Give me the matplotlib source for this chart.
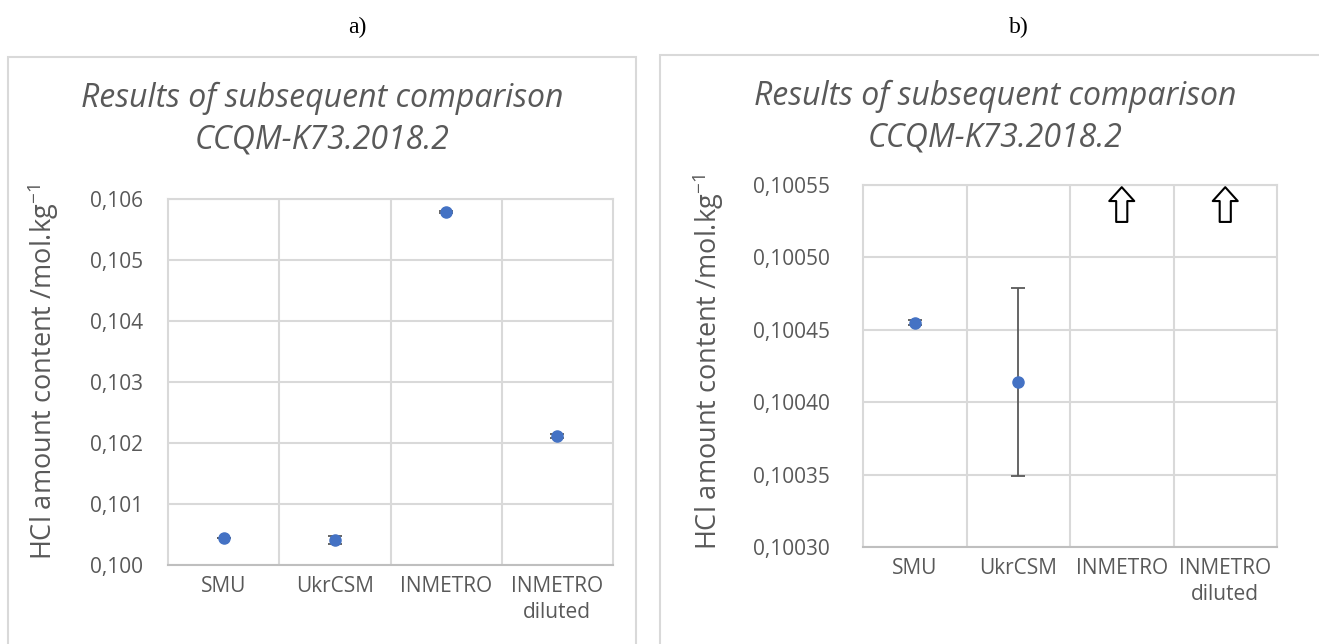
import matplotlib
matplotlib.use("Agg")
import matplotlib.pyplot as plt
from matplotlib.patches import Rectangle

plt.rcParams['font.family'] = ['Open Sans', 'DejaVu Sans']
plt.rcParams['mathtext.fontset'] = 'custom'
plt.rcParams['mathtext.rm'] = 'Open Sans'

# data
labs = ["SMU", "UkrCSM", "INMETRO", "INMETRO\ndiluted"]
vals_a = [0.100445, 0.100414, 0.105785, 0.102115]
err_a = [0.000002, 0.000065, 0.00002, 0.00004]
vals_b = [0.100455, 0.100414]
err_b = [0.000002, 0.000065]
off_scale_b = ["INMETRO", "INMETRO\ndiluted"]

yt_a = [0.100, 0.101, 0.102, 0.103, 0.104, 0.105, 0.106]
ytl_a = ["0,100", "0,101", "0,102", "0,103", "0,104", "0,105", "0,106"]
yt_b = [0.10030, 0.10035, 0.10040, 0.10045, 0.10050, 0.10055]
ytl_b = ["0,10030", "0,10035", "0,10040", "0,10045", "0,10050", "0,10055"]

title = "Results of subsequent comparison\nCCQM-K73.2018.2"
ylab = r"HCl amount content /mol.kg$^{\mathregular{-1}}$"

blue = "#4472C4"
grid_c = "#D9D9D9"
txt_c = "#595959"

W, H = 1319, 644
fig = plt.figure(figsize=(W / 100, H / 100), dpi=100)

# panel borders
fig.add_artist(Rectangle((8 / W, -0.01), 628 / W, 1 - 57 / H + 0.01,
                         transform=fig.transFigure, fill=False, ec=grid_c, lw=1.5))
fig.add_artist(Rectangle((660 / W, -0.01), 700 / W, 1 - 55 / H + 0.01,
                         transform=fig.transFigure, fill=False, ec=grid_c, lw=1.5))

fig.text(357 / W, 1 - 27 / H, "a)", family="Liberation Serif", fontsize=17,
         ha="center", va="center")
fig.text(1019 / W, 1 - 27 / H, "b)", family="Liberation Serif", fontsize=17,
         ha="center", va="center")

ax1 = fig.add_axes([168 / W, 1 - 565 / H, 445 / W, 366 / H])
ax2 = fig.add_axes([863 / W, 1 - 547 / H, 414 / W, 362 / H])


def style(ax, yt, ytl, pad):
    x = list(range(1, len(labs) + 1))
    ax.set_xlim(0.5, len(labs) + 0.5)
    ax.set_xticks(x)
    ax.set_xticklabels(labs, fontsize=15, color=txt_c, linespacing=1.3)
    ax.set_xticks([i + 0.5 for i in x[:-1]], minor=True)
    ax.set_ylim(yt[0], yt[-1])
    ax.set_yticks(yt)
    ax.set_yticklabels(ytl, fontsize=15, color=txt_c)
    ax.grid(True, which="major", axis="y", color=grid_c, lw=1.5)
    ax.grid(True, which="minor", axis="x", color=grid_c, lw=1.5)
    ax.tick_params(which="both", length=0)
    ax.tick_params(axis="y", pad=pad)
    ax.tick_params(axis="x", pad=8)
    for s in ax.spines.values():
        s.set_color(grid_c)
        s.set_linewidth(1.5)
    ax.spines["bottom"].set_color("#BFBFBF")
    ax.set_axisbelow(True)


style(ax1, yt_a, ytl_a, 18)
style(ax2, yt_b, ytl_b, 24)

ax1.errorbar(range(1, len(vals_a) + 1), vals_a, yerr=err_a, fmt="o", color=blue,
             ms=8, ecolor="#595959", elinewidth=1.3, capsize=5, capthick=1.3, zorder=3)
ax2.errorbar(range(1, len(vals_b) + 1), vals_b, yerr=err_b, fmt="o", color=blue,
             ms=8, ecolor="#595959", elinewidth=1.3, capsize=5, capthick=1.3, zorder=3)

# off-scale results marked with arrows
for lab in off_scale_b:
    xi = labs.index(lab) + 1
    ax2.annotate("", xy=(xi, 0.994), xytext=(xi, 0.898),
                 xycoords=("data", "axes fraction"), textcoords=("data", "axes fraction"),
                 arrowprops=dict(arrowstyle="simple,head_length=0.5,head_width=0.9,tail_width=0.4",
                                 mutation_scale=20, fc="white", ec="black", lw=1.5,
                                 shrinkA=0, shrinkB=0))

fig.text(322 / W, 1 - 119 / H, title, fontsize=23, style="italic", color=txt_c,
         ha="center", va="center", linespacing=1.35)
fig.text(995 / W, 1 - 117 / H, title, fontsize=23, style="italic", color=txt_c,
         ha="center", va="center", linespacing=1.35)

fig.text(43 / W, 1 - 372 / H, ylab, fontsize=19.5, color=txt_c, rotation=90,
         ha="center", va="center")
fig.text(708 / W, 1 - 362 / H, ylab, fontsize=19.5, color=txt_c, rotation=90,
         ha="center", va="center")

fig.savefig("out.png", dpi=100)
